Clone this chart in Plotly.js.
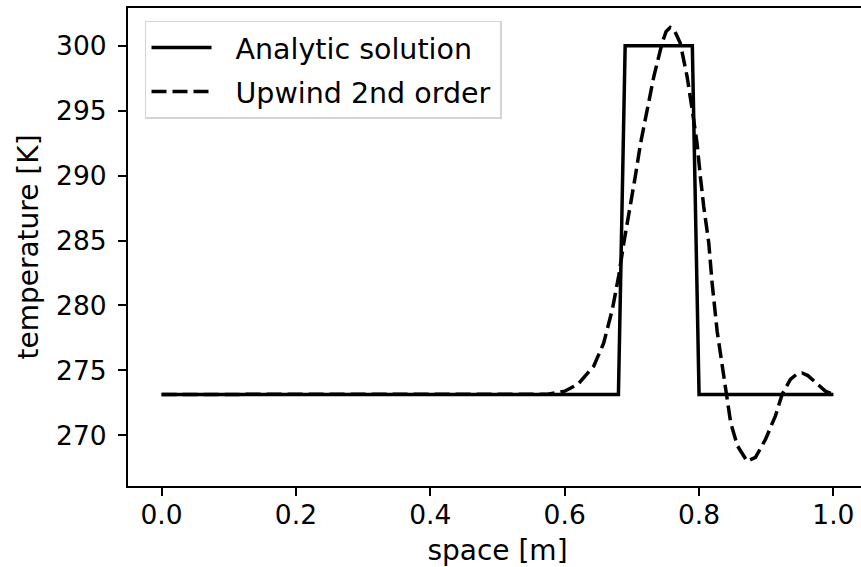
<!DOCTYPE html>
<html>
<head>
<meta charset="utf-8">
<script src="https://cdn.plot.ly/plotly-3.0.1.min.js"></script>
<style>
html, body { margin: 0; padding: 0; overflow: hidden; background: #fff; }
#chart { width: 880px; height: 567px; }
</style>
</head>
<body>
<div id="chart"></div>
<script>
// Analytic solution (square wave)
const analyticX = [0.0, 0.68, 0.69, 0.79, 0.80, 1.0];
const analyticT = [273.15, 273.15, 300.0, 300.0, 273.15, 273.15];

// Upwind 2nd order numerical solution
const upwindX = [0.0, 0.55, 0.575, 0.60, 0.62, 0.643, 0.658, 0.671, 0.6805, 0.688, 0.698, 0.705,
  0.713, 0.7227, 0.7326, 0.745, 0.751, 0.757, 0.764, 0.772, 0.7823, 0.7897, 0.797, 0.802, 0.807,
  0.8145, 0.8195, 0.827, 0.834, 0.841, 0.847, 0.857, 0.8716, 0.884, 0.899, 0.9137, 0.9236, 0.936,
  0.9450, 0.9534, 0.9620, 0.9707, 0.988, 1.0];
const upwindT = [273.15, 273.15, 273.17, 273.4, 273.95, 275.3, 277.1, 279.7, 282.3, 284.8, 287.6, 289.9,
  292.5, 295.1, 297.6, 300.2, 301.1, 301.4, 301.1, 300.2, 297.6, 295.1, 292.5, 289.9, 287.6,
  284.8, 281.7, 278.0, 275.6, 273.15, 271.0, 269.2, 268.0, 268.3, 269.7, 271.5, 273.15, 274.3,
  274.7, 274.8, 274.6, 274.2, 273.4, 273.15];

const names = ["Analytic solution", "Upwind 2nd order"];
const xTicks = [0.0, 0.2, 0.4, 0.6, 0.8, 1.0];
const xTickText = ["0.0", "0.2", "0.4", "0.6", "0.8", "1.0"];
const yTicks = [270, 275, 280, 285, 290, 295, 300];

const FONT = "DejaVu Sans, sans-serif";
const GAP = "\u2002\u2006"; // spacing between legend sample and label

const traces = [
  { x: analyticX, y: analyticT, name: GAP + names[0], mode: "lines", legendgroup: "a",
    line: { color: "#000000", width: 3.5 } },
  { x: upwindX, y: upwindT, name: GAP + names[1] + "\u2006", mode: "lines", legendgroup: "b",
    line: { color: "#000000", width: 3.5, dash: "15px,6px" } }
];

const layout = {
  width: 880, height: 567,
  margin: { l: 128, r: 13, t: 8, b: 81 },
  paper_bgcolor: "#ffffff", plot_bgcolor: "#ffffff",
  font: { family: FONT, size: 26.5, color: "#000000" },
  showlegend: true,
  legend: {
    x: 0.023, y: 0.973, xanchor: "left", yanchor: "top",
    bgcolor: "rgba(255,255,255,0.8)", bordercolor: "#d4d4d4", borderwidth: 1.5,
    font: { family: FONT, size: 28.5, color: "#000000" },
    traceorder: "grouped", tracegroupgap: 4, itemwidth: 60
  },
  xaxis: {
    range: [-0.05, 1.05], tickvals: xTicks, ticktext: xTickText,
    ticks: "outside", ticklen: 8, tickwidth: 2, tickcolor: "#000",
    showline: true, linewidth: 2, linecolor: "#000", mirror: true,
    showgrid: false, zeroline: false, ticklabelstandoff: -4,
    tickfont: { family: FONT, size: 26.5 },
    title: { text: "space [m]", font: { family: FONT, size: 28 }, standoff: 17 }
  },
  yaxis: {
    range: [266.1, 302.9], tickvals: yTicks,
    ticks: "outside", ticklen: 8, tickwidth: 2, tickcolor: "#000",
    showline: true, linewidth: 2, linecolor: "#000", mirror: true,
    showgrid: false, zeroline: false, ticklabelstandoff: 6,
    tickfont: { family: FONT, size: 26.5 },
    title: { text: "temperature [K]", font: { family: FONT, size: 28 }, standoff: 9 }
  }
};

Plotly.newPlot("chart", traces, layout, { displayModeBar: false, staticPlot: true });
</script>
</body>
</html>
